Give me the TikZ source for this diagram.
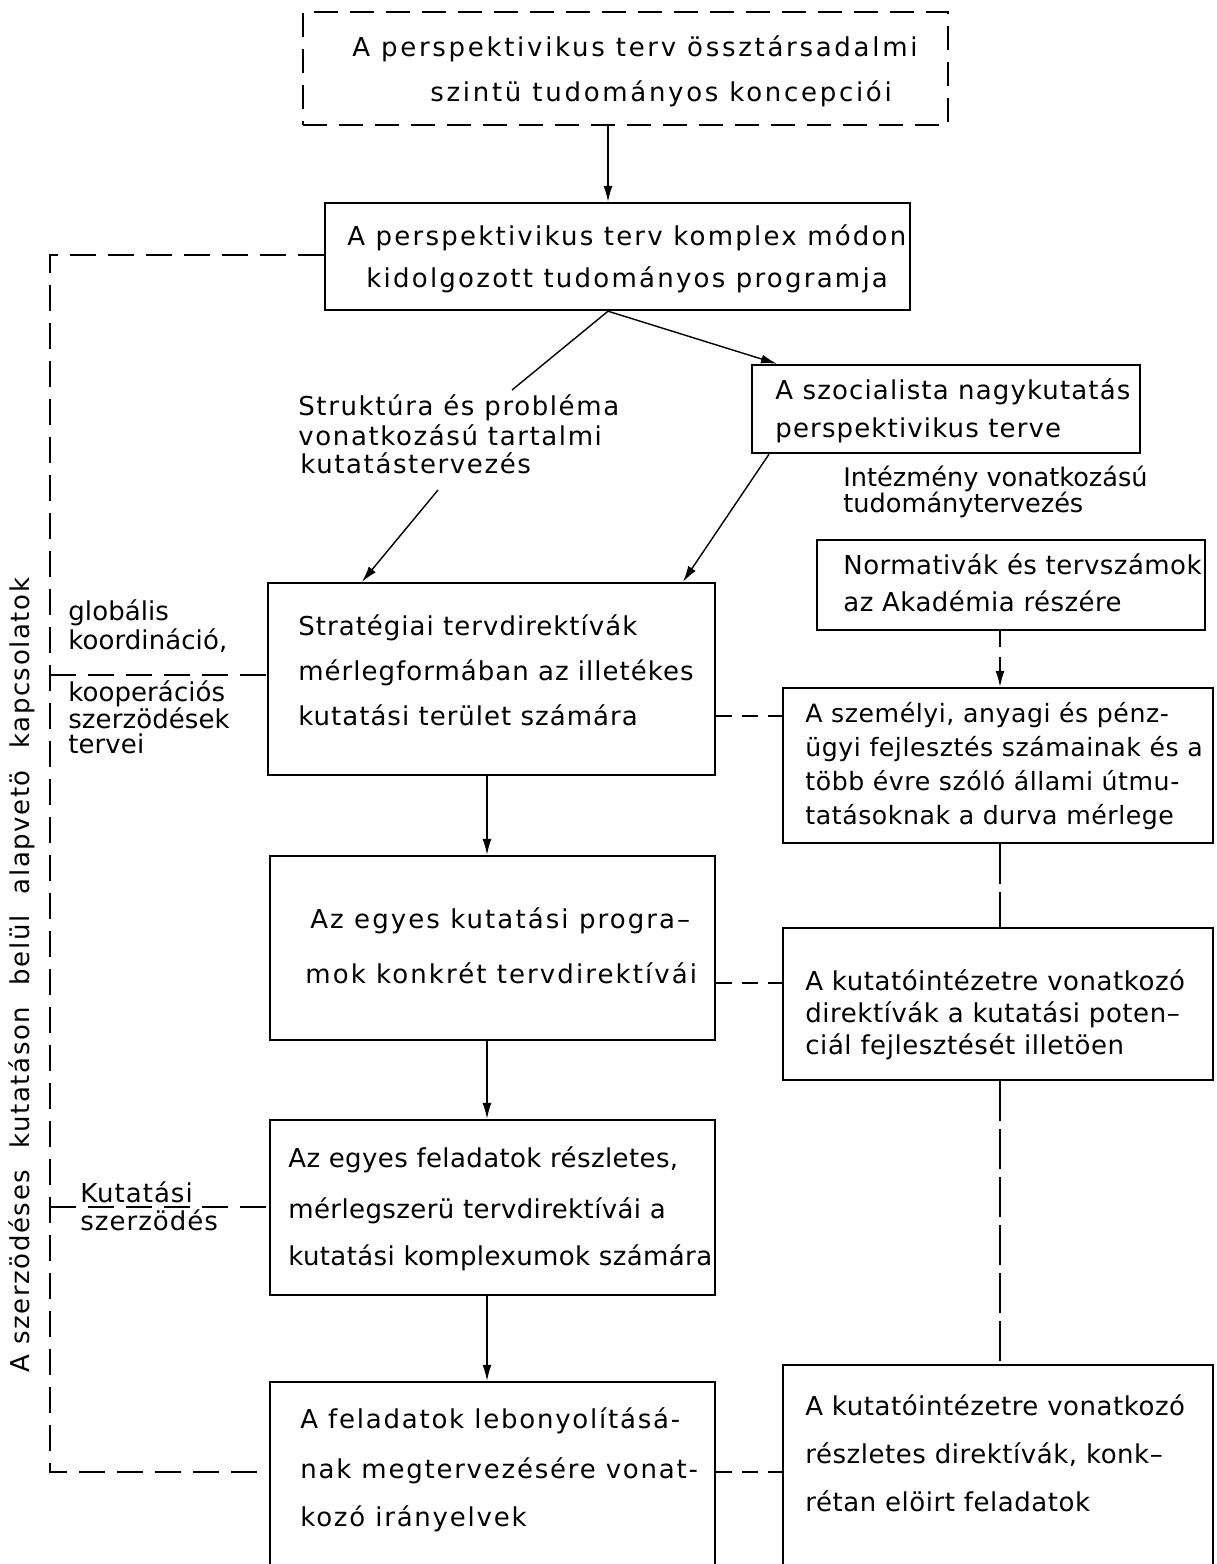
\documentclass[tikz,border=0pt]{standalone}
\usepackage{fontspec}
\setmainfont{DejaVu Sans}
\usetikzlibrary{arrows.meta,fit}
\begin{document}
\begin{tikzpicture}[x=0.5pt,y=-0.5pt,
  box/.style={draw, line width=1.2pt, inner sep=0pt},
  dbox/.style={box, dash pattern=on 12pt off 6pt},
  txt/.style={anchor=base west, inner sep=0pt},
  ls/.style 2 args={font=\fontsize{#1}{15}\selectfont\addfontfeatures{LetterSpace=#2}},
  conn/.style={line width=0.7pt},
  arr/.style={conn, -{Latex[length=8pt,width=4.5pt]}},
  ldash/.style={conn, dash pattern=on 13pt off 6pt},
  rdash/.style={conn, dash pattern=on 20pt off 4pt},
  sdash/.style={conn, dash pattern=on 8pt off 5pt}]
\clip (0,0) rectangle (1216,1564);
% boxes
\node[dbox, fit={(303,12) (948,125)}] (top) {};
\node[box, fit={(325,203) (910,310)}] (prog) {};
\node[box, fit={(752,365) (1140,453)}] (szoc) {};
\node[box, fit={(817,540) (1205,630)}] (norm) {};
\node[box, fit={(268,583) (715,775)}] (strat) {};
\node[box, fit={(783,688) (1213,843)}] (szem) {};
\node[box, fit={(270,856) (715,1040)}] (konk) {};
\node[box, fit={(783,928) (1213,1080)}] (kut) {};
\node[box, fit={(270,1120) (715,1295)}] (fel) {};
\node[box, fit={(783,1365) (1213,1600)}] (resz) {};
\node[box, fit={(270,1382) (715,1600)}] (leb) {};
% texts
\begin{scope}[every node/.append style={txt, ls={13}{10.4}}]
\node (t1) at (352,56) {A perspektivikus terv össztársadalmi};
\node (t2) at (430,101) {szintü tudományos koncepciói};
\end{scope}
\begin{scope}[every node/.append style={txt, ls={13}{8.6}}]
\node (p1) at (347,245) {A perspektivikus terv komplex módon};
\node (p2) at (366,287) {kidolgozott tudományos programja};
\end{scope}
\begin{scope}[every node/.append style={txt, ls={13}{4.4}}]
\node (s1) at (775,399) {A szocialista nagykutatás};
\node (s2) at (775,437) {perspektivikus terve};
\end{scope}
\begin{scope}[every node/.append style={txt, ls={13}{6.2}}]
\node (k1) at (298,415) {Struktúra és probléma};
\node (k2) at (298,445) {vonatkozású tartalmi};
\node (k3) at (300,473) {kutatástervezés};
\end{scope}
\begin{scope}[every node/.append style={txt, ls={12.8}{0}}]
\node (i1) at (843,486) {Intézmény vonatkozású};
\node (i2) at (843,512) {tudománytervezés};
\end{scope}
\begin{scope}[every node/.append style={txt, ls={13}{1.8}}]
\node (n1) at (843,574) {Normativák és tervszámok};
\node (n2) at (843,611) {az Akadémia részére};
\end{scope}
\begin{scope}[every node/.append style={txt, ls={13}{3.9}}]
\node (g1) at (298,635) {Stratégiai tervdirektívák};
\node (g2) at (298,680) {mérlegformában az illetékes};
\node (g3) at (298,725) {kutatási terület számára};
\node (v1) at (80,1202) {Kutatási};
\node (v2) at (80,1230) {szerzödés};
\end{scope}
\begin{scope}[every node/.append style={txt, ls={13}{0.3}}]
\node (l1) at (68,620) {globális};
\node (l2) at (68,649) {koordináció,};
\node (l3) at (68,701) {kooperációs};
\node (l4) at (68,728) {szerzödések};
\node (l5) at (68,753) {tervei};
\end{scope}
\begin{scope}[every node/.append style={txt, ls={12.6}{2.2}}]
\node (m1) at (805,722) {A személyi, anyagi és pénz-};
\node (m2) at (805,756) {ügyi fejlesztés számainak és a};
\node (m3) at (805,790) {több évre szóló állami útmu-};
\node (m4) at (805,824) {tatásoknak a durva mérlege};
\end{scope}
\begin{scope}[every node/.append style={txt, ls={13}{8}}]
\node (a1) at (310,928) {Az egyes kutatási progra–};
\node (a2) at (305,983) {mok konkrét tervdirektívái};
\end{scope}
\begin{scope}[every node/.append style={txt, ls={13}{2.1}}]
\node (u1) at (805,990) {A kutatóintézetre vonatkozó};
\node (u2) at (805,1022) {direktívák a kutatási poten–};
\node (u3) at (805,1054) {ciál fejlesztését illetöen};
\node (r1) at (805,1415) {A kutatóintézetre vonatkozó};
\node (r2) at (805,1463) {részletes direktívák, konk–};
\node (r3) at (805,1511) {rétan elöirt feladatok};
\end{scope}
\begin{scope}[every node/.append style={txt, ls={13}{1.5}}]
\node (f1) at (288,1167) {Az egyes feladatok részletes,};
\node (f2) at (288,1218) {mérlegszerü tervdirektívái a};
\node (f3) at (288,1265) {kutatási komplexumok számára};
\end{scope}
\begin{scope}[every node/.append style={txt, ls={13}{6.8}}]
\node (b1) at (300,1428) {A feladatok lebonyolításá-};
\node (b2) at (300,1478) {nak megtervezésére vonat-};
\node (b3) at (300,1526) {kozó irányelvek};
\end{scope}
\node[inner sep=0pt, rotate=90, ls={13}{6}] (side) at (22,975)
  {A szerzödéses\hspace{0.45em} kutatáson\hspace{0.45em} belül\hspace{0.45em} alapvetö\hspace{0.45em} kapcsolatok};
% connectors
\coordinate (sA) at (512,390);
\coordinate (sB) at (438,490);
\coordinate (L1) at (50,255);
\coordinate (L2) at (50,1472);
\coordinate (LG) at (50,675);
\coordinate (LK) at (50,1207);
\draw[arr] (top.south -| 608,0) -- (prog.north -| 608,0);
\draw[arr] (prog.south -| 608,0) -- (szoc.north -| 777,0);
\draw[conn] (prog.south -| 608,0) -- (sA);
\draw[arr] (sB) -- (strat.north -| 362,0);
\draw[arr] (szoc.south -| 769,0) -- (strat.north -| 683,0);
\draw[arr, sdash] (norm.south -| 1000,0) -- (szem.north -| 1000,0);
\draw[arr] (strat.south -| 487,0) -- (konk.north -| 487,0);
\draw[arr] (konk.south -| 487,0) -- (fel.north -| 487,0);
\draw[arr] (fel.south -| 487,0) -- (leb.north -| 487,0);
\draw[sdash] (strat.east |- 0,716) -- (szem.west |- 0,716);
\draw[sdash] (konk.east |- 0,983) -- (kut.west |- 0,983);
\draw[sdash] (leb.east |- 0,1472) -- (resz.west |- 0,1472);
\draw[rdash] (szem.south -| 1000,0) -- (kut.north -| 1000,0);
\draw[rdash] (kut.south -| 1000,0) -- (resz.north -| 1000,0);
\draw[ldash] (prog.west |- L1) -- (L1) -- (L2) -- (leb.west |- L2);
\draw[ldash] (LG) -- (strat.west |- LG);
\draw[ldash] (LK) -- (fel.west |- LK);
\end{tikzpicture}
\end{document}
